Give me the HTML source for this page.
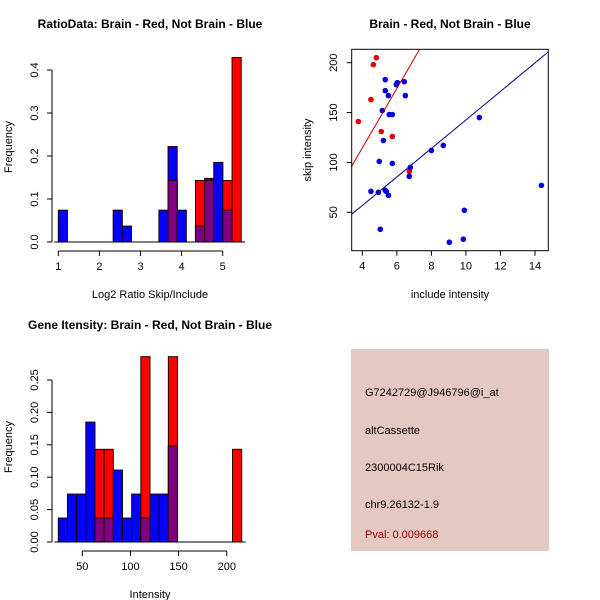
<!DOCTYPE html>
<html><head><meta charset="utf-8"><style>
body{margin:0;background:#fff}
svg{display:block;font-family:"Liberation Sans",sans-serif}
</style></head><body>
<svg id="s" width="600" height="600" viewBox="0 0 600 600" xmlns="http://www.w3.org/2000/svg">
<rect width="600" height="600" fill="#fff"/>
<text x="150" y="28" text-anchor="middle" font-size="12" font-weight="bold">RatioData: Brain - Red, Not Brain - Blue</text>
<text x="450" y="28" text-anchor="middle" font-size="12" font-weight="bold">Brain - Red, Not Brain - Blue</text>
<text x="150" y="329" text-anchor="middle" font-size="12" font-weight="bold">Gene Itensity: Brain - Red, Not Brain - Blue</text>
<text x="150" y="298" text-anchor="middle" font-size="11">Log2 Ratio Skip/Include</text>
<text x="12" y="147" text-anchor="middle" font-size="11" transform="rotate(-90 12 147)">Frequency</text>
<text x="450" y="298" text-anchor="middle" font-size="11">include intensity</text>
<text x="311" y="150" text-anchor="middle" font-size="11" transform="rotate(-90 311 150)">skip intensity</text>
<text x="150" y="598" text-anchor="middle" font-size="11">Intensity</text>
<text x="12" y="447" text-anchor="middle" font-size="11" transform="rotate(-90 12 447)">Frequency</text>
<g>
<rect x="351" y="349" width="198" height="202" fill="#e5c8c2"/>
<text x="365" y="396" font-size="11">G7242729@J946796@i_at</text>
<text x="365" y="434" font-size="11">altCassette</text>
<text x="365" y="471" font-size="11">2300004C15Rik</text>
<text x="365" y="508" font-size="11">chr9.26132-1.9</text>
<text x="365" y="538" font-size="11" fill="#8b0000">Pval: 0.009668</text>
</g>
<g id="g1"></g>
<g id="g2"></g>
<g id="g3"></g>
</svg>
<script>
const ratioBlue=[0.074,0,0,0,0,0,0.074,0.037,0,0,0,0.074,0.222,0.074,0,0.037,0.148,0.185,0.074,0];
const ratioRed=[0,0,0,0,0,0,0,0,0,0,0,0,0.143,0,0,0.143,0.143,0,0.143,0.429];
const ratioXTicks=[1,2,3,4,5];
const ratioYTicks=[0,0.1,0.2,0.3,0.4];
const intBlue=[0.037,0.074,0.074,0.185,0.037,0.037,0.111,0.037,0.074,0.037,0.074,0.074,0.148,0,0,0,0,0,0,0];
const intRed=[0,0,0,0,0.143,0.143,0,0,0,0.286,0,0,0.286,0,0,0,0,0,0,0.143];
const intXTicks=[50,100,150,200];
const intYTicks=[0,0.05,0.1,0.15,0.2,0.25];
const redX=[3.77,4.50,4.64,4.81,5.10,5.74,6.72];
const redY=[141,163,198,205,131,126,91];
const blueX=[4.50,4.93,4.98,5.04,5.16,5.22,5.33,5.33,5.33,5.39,5.51,5.51,5.56,5.74,5.74,5.97,6.03,6.43,6.49,6.72,6.78,8.00,8.69,9.04,9.85,9.91,10.78,14.37];
const blueY=[71,70,101,33,152,122,183,172,72,71,167,67,148,148,99,178,180,181,167,86,95,112,117,20,23,52,145,77];
const redFit=[-4.7,29.8];
const blueFit=[-0.4,14.3];
const scXTicks=[4,6,8,10,12,14];
const scYTicks=[50,100,150,200];
const NS="http://www.w3.org/2000/svg";
function el(p,t,a){const e=document.createElementNS(NS,t);for(const k in a)e.setAttribute(k,a[k]);p.appendChild(e);return e;}
function hist(g,blue,red,x0,x1,xpx0,xpx1,ypx0,yscale,xticks,yticks,tickFmt,axisY){
  const n=blue.length,bw=(x1-x0)/n;
  const X=v=>xpx0+(v-x0)/(x1-x0)*(xpx1-xpx0);
  const Y=v=>ypx0-v*yscale;
  for(let i=0;i<n;i++){
    const a=X(x0+i*bw),b=X(x0+(i+1)*bw);
    const layers=[[blue[i],'#0000ff'],[red[i],'#ff0000'],[Math.min(blue[i],red[i]),'#800080']];
    for(const [v,c] of layers){ if(v<=0) continue;
      const r=el(g,'rect',{x:a,y:Y(v),width:b-a,height:v*yscale,fill:c,stroke:'#200000','stroke-width':1});
      
      
    }
  }
  el(g,'line',{x1:xpx0-4,x2:X(x1)+4,y1:ypx0,y2:ypx0,stroke:'#000'});
  const yt=yticks, ya=52;
  el(g,'line',{x1:ya,x2:ya,y1:Y(yt[0]),y2:Y(yt[yt.length-1]),stroke:'#000'});
  for(const t of yt){el(g,'line',{x1:ya-5,x2:ya,y1:Y(t),y2:Y(t),stroke:'#000'});
    const tx=el(g,'text',{x:38,y:Y(t),'font-size':11,'text-anchor':'middle',transform:`rotate(-90 38 ${Y(t)})`});
    
    
    tx.textContent=tickFmt(t);}
  el(g,'line',{x1:X(xticks[0]),x2:X(xticks[xticks.length-1]),y1:axisY,y2:axisY,stroke:'#000'});
  for(const t of xticks){el(g,'line',{x1:X(t),x2:X(t),y1:axisY,y2:axisY+5,stroke:'#000'});
    const tx=el(g,'text',{x:X(t),y:axisY+19,'font-size':11,'text-anchor':'middle'});
    
    
    tx.textContent=t;}
}
// ratio: 1 unit = 41.2px, tick1 at 58
const rX=v=>58+(v-1)*41.17;
hist(document.getElementById('g1'),ratioBlue,ratioRed,1.0,5.45,58.3,rX(5.45),242,430,ratioXTicks,ratioYTicks,t=>t.toFixed(1),251);
hist(document.getElementById('g3'),intBlue,intRed,25.1,215.5,58.3,241.7,542,648,intXTicks,intYTicks,t=>t.toFixed(2),551);
// scatter
const g2=document.getElementById('g2');
const L=351.7,R=548.3,T=49.3,B=250.7;
const sx=v=>362.3+(v-4)*17.27, sy=v=>62.7+(200-v)*0.9973;
const cp=el(g2,'clipPath',{id:'cp'});el(cp,'rect',{x:L,y:T,width:R-L,height:B-T});
function fit(f,c){const xa=3.38,xb=14.77;
  const ln=el(g2,'line',{x1:sx(xa),y1:sy(f[0]+f[1]*xa),x2:sx(xb),y2:sy(f[0]+f[1]*xb),stroke:c,'clip-path':'url(#cp)'});
  
  }
for(let i=0;i<redX.length;i++){const c=el(g2,'circle',{cx:sx(redX[i]),cy:sy(redY[i]),r:2.8,fill:'#e00000'});
  
  }
for(let i=0;i<blueX.length;i++){const c=el(g2,'circle',{cx:sx(blueX[i]),cy:sy(blueY[i]),r:2.8,fill:'#0000e0'});
  
  }
fit(redFit,'#c00000');fit(blueFit,'#00008b');
el(g2,'rect',{x:L,y:T,width:R-L,height:B-T,fill:'none',stroke:'#000'});
for(const t of scXTicks){el(g2,'line',{x1:sx(t),x2:sx(t),y1:B,y2:B+5,stroke:'#000'});
  const tx=el(g2,'text',{x:sx(t),y:B+19,'font-size':11,'text-anchor':'middle'});
  
  
  tx.textContent=t;}
for(const t of scYTicks){el(g2,'line',{x1:L-5,x2:L,y1:sy(t),y2:sy(t),stroke:'#000'});
  const tx=el(g2,'text',{x:337,y:sy(t),'font-size':11,'text-anchor':'middle',transform:`rotate(-90 337 ${sy(t)})`});
  
  
  tx.textContent=t;}
</script>
</body></html>
